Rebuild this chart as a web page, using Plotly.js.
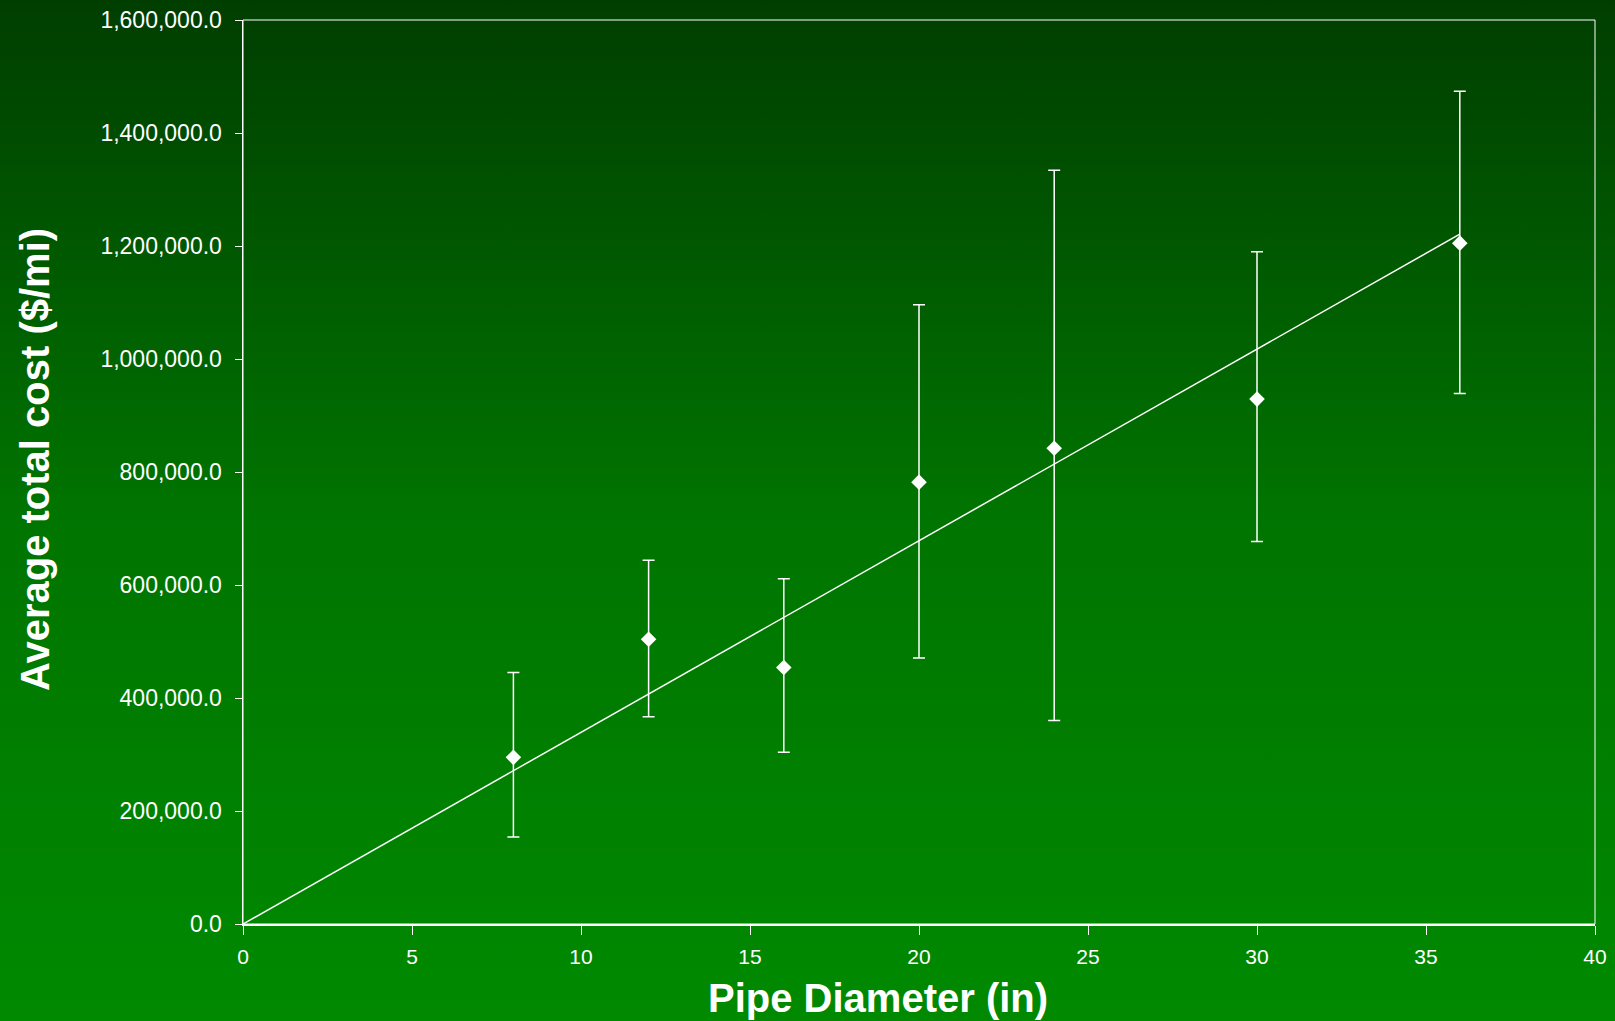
<!DOCTYPE html>
<html>
<head>
<meta charset="utf-8">
<script src="https://cdn.plot.ly/plotly-3.0.1.min.js"></script>
<style>
  html, body { margin: 0; padding: 0; }
  body { width: 1615px; height: 1021px; overflow: hidden;
         background: linear-gradient(to bottom, #003e00 0%, #007400 50%, #008a00 100%); }
  #chart { width: 1615px; height: 1021px; }
</style>
</head>
<body>
<div id="chart"></div>
<script>
// Data
const pipeDiameter = [8, 12, 16, 20, 24, 30, 36];           // inches
const avgCost      = [295000, 504000, 454000, 782000, 842000, 929000, 1205000]; // $/mi
const errorPlus    = [150000, 140000, 157000, 314000, 492000, 261000, 269000];  // $/mi
const errorMinus   = [141000, 137000, 150000, 311000, 482000, 252000, 266000];  // $/mi
const trendX       = [0, 36];
const trendY       = [0, 1221000];
const xTicks       = [0, 5, 10, 15, 20, 25, 30, 35, 40];
const yTicks       = [0, 200000, 400000, 600000, 800000, 1000000, 1200000, 1400000, 1600000];
const xTitle       = 'Pipe Diameter (in)';
const yTitle       = 'Average total cost ($/mi)';

const font = 'Liberation Sans, Arial, sans-serif';

const traces = [
  {
    x: trendX, y: trendY, type: 'scatter', mode: 'lines',
    line: { color: '#ffffff', width: 1.5 }, hoverinfo: 'skip', showlegend: false
  },
  {
    x: pipeDiameter, y: avgCost, type: 'scatter', mode: 'markers',
    marker: { symbol: 'diamond', size: 12, color: '#ffffff' },
    error_y: { type: 'data', symmetric: false, array: errorPlus, arrayminus: errorMinus,
               visible: true, color: '#ffffff', thickness: 1.5, width: 6 },
    showlegend: false
  }
];

const layout = {
  width: 1615, height: 1021,
  margin: { l: 243, r: 20, t: 20, b: 97 },
  paper_bgcolor: 'rgba(0,0,0,0)',
  plot_bgcolor: 'rgba(0,0,0,0)',
  showlegend: false,
  font: { family: font, color: '#ffffff', size: 21 },
  xaxis: {
    range: [0, 40], tickvals: xTicks, ticktext: xTicks.map(String),
    showgrid: false, zeroline: false,
    showline: true, linecolor: '#ffffff', linewidth: 2,
    ticks: 'outside', ticklen: 9, tickwidth: 1, tickcolor: '#ffffff',
    tickfont: { family: font, size: 21, color: '#ffffff' },
    ticklabelstandoff: 4
  },
  yaxis: {
    range: [0, 1600000], tickvals: yTicks, tickformat: ',.1f',
    showgrid: false, zeroline: false,
    showline: true, linecolor: '#ffffff', linewidth: 1.5,
    ticks: 'outside', ticklen: 7, tickwidth: 1, tickcolor: '#ffffff',
    tickfont: { family: font, size: 23, color: '#ffffff' },
    ticklabelstandoff: 8
  },
  shapes: [
    { type: 'rect', xref: 'paper', yref: 'paper', x0: 0, x1: 1, y0: 0, y1: 1,
      line: { color: '#ffffff', width: 1 }, layer: 'below' }
  ],
  annotations: [
    { text: '<b>' + xTitle + '</b>', xref: 'paper', yref: 'paper',
      x: (878 - 243) / (1595 - 243), y: -(998 - 924) / (924 - 20),
      xanchor: 'center', yanchor: 'middle', showarrow: false,
      font: { family: font, size: 40, color: '#ffffff' } },
    { text: '<b>' + yTitle + '</b>', xref: 'paper', yref: 'paper', textangle: -90,
      x: -(243 - 35) / (1595 - 243), y: (924 - 460) / (924 - 20),
      xanchor: 'center', yanchor: 'middle', showarrow: false,
      font: { family: font, size: 40, color: '#ffffff' } }
  ]
};

Plotly.newPlot('chart', traces, layout, { displayModeBar: false, staticPlot: true });
</script>
</body>
</html>
